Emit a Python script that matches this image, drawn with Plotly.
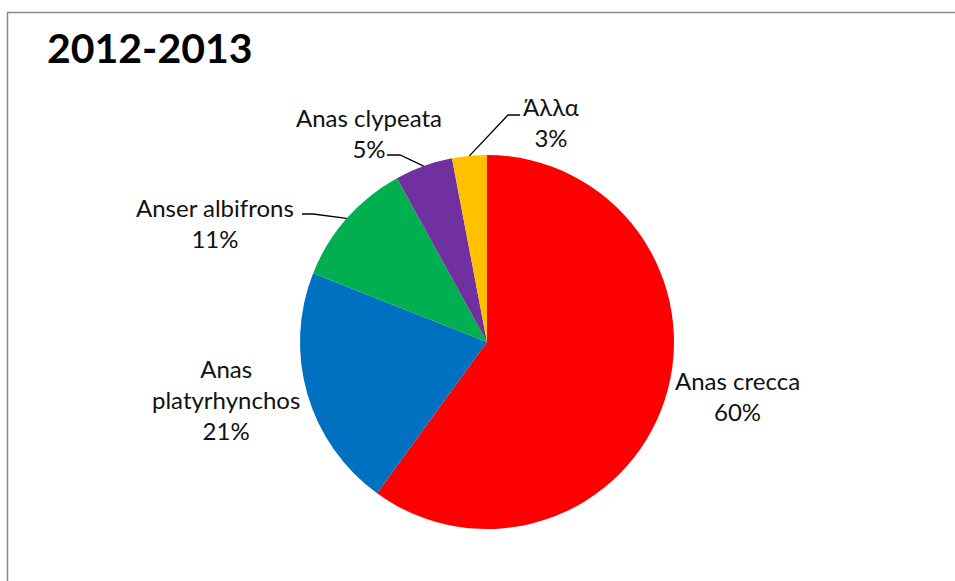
import math
import plotly.graph_objects as go

# Species shares of the 2012-2013 season (percent)
species = ["Anas crecca", "Anas platyrhynchos", "Anser albifrons", "Anas clypeata", "Άλλα"]
shares = [60, 21, 11, 5, 3]
colors = ["#FF0000", "#0070C0", "#00B050", "#7030A0", "#FFC000"]
title_text = "2012-2013"

# ---- layout geometry (pixels) ----
W, H = 955, 581
CX, CY, R = 487, 342, 187

# centre of each label block
label_center = {
    "Anas crecca": (737, 396),
    "Anas platyrhynchos": (226, 399),
    "Anser albifrons": (215, 223),
    "Anas clypeata": (369, 133),
    "Άλλα": (551, 122),
}
# names that wrap onto two lines
wrapped = {"Anas platyrhynchos": "Anas<br>platyrhynchos"}
# leader lines: text end -> elbow (the last point is the slice edge)
leader_route = {
    "Anser albifrons": [(302, 214), (313, 214)],
    "Anas clypeata": [(387, 155), (400, 155)],
    "Άλλα": [(520, 115), (508, 115)],
}

FONT = "Lato, 'Open Sans', sans-serif"


def px(x, y):
    return x / W, 1 - y / H


fig = go.Figure(
    go.Pie(
        labels=species,
        values=shares,
        marker=dict(colors=colors, line=dict(width=0)),
        sort=False,
        direction="clockwise",
        rotation=0,
        textinfo="none",
        hoverinfo="label+percent",
        showlegend=False,
        domain=dict(
            x=[(CX - R) / W, (CX + R) / W],
            y=[1 - (CY + R) / H, 1 - (CY - R) / H],
        ),
    )
)

total = sum(shares)
annotations = []
shapes = []
cum = 0
for name, v in zip(species, shares):
    mid = (cum + v / 2) / total
    cum += v
    theta = 2 * math.pi * mid
    ex = CX + R * math.sin(theta)
    ey = CY - R * math.cos(theta)

    lx, ly = label_center[name]
    nx, ny = px(lx, ly)
    annotations.append(dict(
        x=nx, y=ny, xref="paper", yref="paper",
        xanchor="center", yanchor="middle", align="center",
        text=f"{wrapped.get(name, name)}<br>{v}%",
        showarrow=False,
        font=dict(family=FONT, size=24, color="#111111"),
    ))

    if name in leader_route:
        pts = leader_route[name] + [(ex, ey)]
        path = ""
        for i, (x, y) in enumerate(pts):
            fx, fy = px(x, y)
            path += ("M" if i == 0 else " L") + f" {fx:.5f} {fy:.5f}"
        shapes.append(dict(
            type="path", xref="paper", yref="paper", path=path,
            line=dict(color="#000000", width=1.3),
        ))

# chart title
tx, ty = px(45, 48)
annotations.append(dict(
    x=tx, y=ty, xref="paper", yref="paper",
    xanchor="left", yanchor="middle",
    text="<b>" + title_text + "</b>", showarrow=False,
    font=dict(family=FONT, size=41, color="#000000"),
))

# outer chart frame
fx0, fy0 = px(7.5, 12.5)
fx1, fy1 = px(W + 20, H + 20)
shapes.append(dict(
    type="rect", xref="paper", yref="paper",
    x0=fx0, y0=fy0, x1=fx1, y1=fy1,
    line=dict(color="#888888", width=1.5),
    fillcolor="rgba(0,0,0,0)",
))

fig.update_layout(
    width=W, height=H,
    margin=dict(l=0, r=0, t=0, b=0),
    paper_bgcolor="white",
    plot_bgcolor="white",
    annotations=annotations,
    shapes=shapes,
)

fig.write_html("out.html")
